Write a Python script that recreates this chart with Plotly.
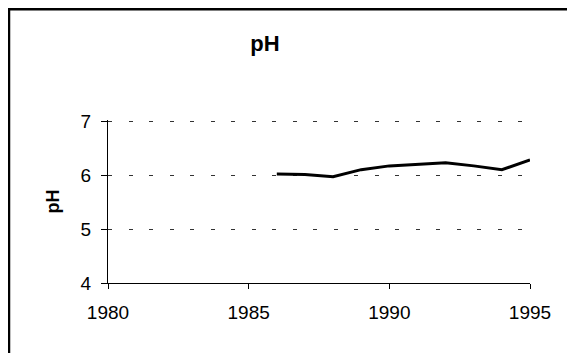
import plotly.graph_objects as go

years = [1986, 1987, 1988, 1989, 1990, 1991, 1992, 1993, 1994, 1995]
ph_values = [6.02, 6.01, 5.97, 6.10, 6.17, 6.20, 6.23, 6.17, 6.10, 6.28]
x_ticks = [1980, 1985, 1990, 1995]
y_ticks = [4, 5, 6, 7]

OFF = 8  # default page body margin
W, H = 575 - OFF, 353 - OFF
L, R, T, B = 108 - OFF, 53 - OFF, 120 - OFF, 70
pw, ph = W - L - R, H - T - B

def px_x(p):
    return (p - OFF - L) / pw

def px_y(p):
    return (H - B - (p - OFF)) / ph

fig = go.Figure()
fig.add_trace(go.Scatter(x=years, y=ph_values, mode="lines",
                         line=dict(color="black", width=3), showlegend=False,
                         hoverinfo="skip"))

font = "Liberation Sans, Arial, sans-serif"
fig.update_layout(
    width=W, height=H,
    margin=dict(l=L, r=R, t=T, b=B),
    paper_bgcolor="white", plot_bgcolor="white",
    title=dict(text="<b>pH</b>", x=px_x(265), xanchor="center", xref="paper",
               y=1 - (43 - OFF) / H, yanchor="middle",
               font=dict(family=font, size=22, color="black")),
    font=dict(family=font, color="black"),
    xaxis=dict(range=[1980, 1995], tickvals=x_ticks, showgrid=False,
               showline=True, linecolor="black", linewidth=1,
               ticks="outside", ticklen=5, tickcolor="black",
               tickfont=dict(size=19, color="black"),
               ticklabelstandoff=7, zeroline=False),
    yaxis=dict(range=[4, 7.02], tickvals=y_ticks, showgrid=True,
               gridcolor="#333333", griddash="4px,16.5px", gridwidth=1,
               showline=True, linecolor="black", linewidth=1,
               ticks="outside", ticklen=6, tickcolor="black",
               tickfont=dict(size=19, color="black"),
               ticklabelstandoff=6, zeroline=False,
               title=dict(text="<b>pH</b>", font=dict(size=18, color="black"),
                          standoff=16)),
    shapes=[
        dict(type="line", xref="paper", yref="paper",
             x0=px_x(7), x1=px_x(573), y0=px_y(9), y1=px_y(9),
             line=dict(color="black", width=3)),
        dict(type="line", xref="paper", yref="paper",
             x0=px_x(9), x1=px_x(9), y0=px_y(8), y1=px_y(360),
             line=dict(color="black", width=2.5)),
        dict(type="line", xref="paper", yref="paper",
             x0=px_x(573.5), x1=px_x(573.5), y0=px_y(10), y1=px_y(42),
             line=dict(color="#c8c8c8", width=1.5)),
    ],
)

fig.write_html("out.html")
